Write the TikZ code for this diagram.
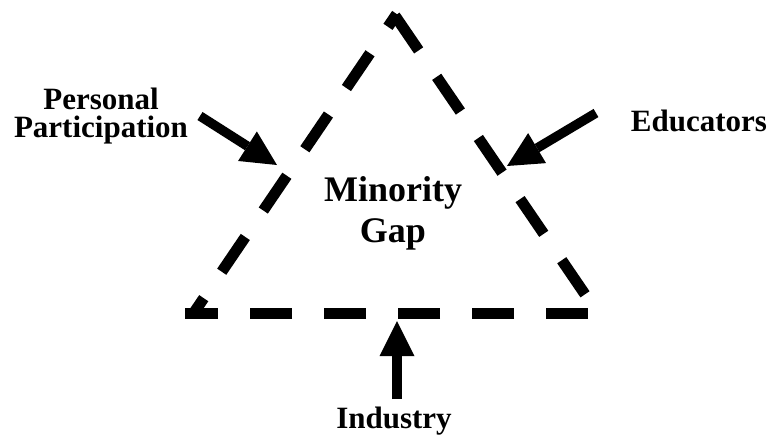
\documentclass[tikz,border=0pt]{standalone}
\usepackage{fontspec}
\setmainfont{Liberation Serif}
\usetikzlibrary{arrows.meta}
\begin{document}
\begin{tikzpicture}[x=1pt,y=-1pt,
  side/.style={line width=11pt, dash pattern=on 42pt off 32pt},
  pointer/.style={line width=9.5pt, -{Triangle[length=35pt,width=35pt,line width=0pt]}},
  lbl/.style={font=\bfseries\fontsize{31}{28.5}\selectfont, align=center, inner sep=0pt},
  big/.style={font=\bfseries\fontsize{36}{41}\selectfont, align=center, inner sep=0pt}]
\useasboundingbox (0,0) rectangle (772,440);
% triangle corners
\coordinate (apexL) at (396.7,14);
\coordinate (apexR) at (395,15.7);
\coordinate (bl) at (190.3,318);
\coordinate (bl2) at (185,313);
\coordinate (br) at (588,313);
\coordinate (re) at (585,294.3);
\begin{scope}
  \clip (0,0) rectangle (772,318.3);
  \draw[side, dash phase=26.5pt] (apexL) -- (bl);
\end{scope}
\draw[side] (br) -- (bl2);
\draw[side] (apexR) -- (re);
% labels
\node[lbl] (pp) at (101,116) {Personal\\Participation};
\node[lbl, anchor=base] (ed) at (699,131.7) {Educators};
\node[big] (mg) at (393,213.5) {Minority\\Gap};
\node[lbl, anchor=base] (ind) at (394,428) {Industry};
% arrows
\coordinate (ppTail) at (200,116);
\coordinate (ppTip) at (277,165);
\coordinate (edTail) at (596,113);
\coordinate (edTip) at (507,166);
\coordinate (indTail) at (397,399);
\coordinate (indTip) at (397,321);
\draw[pointer] (ppTail) -- (ppTip);
\draw[pointer] (edTail) -- (edTip);
\draw[pointer] (indTail) -- (indTip);
\end{tikzpicture}
\end{document}
